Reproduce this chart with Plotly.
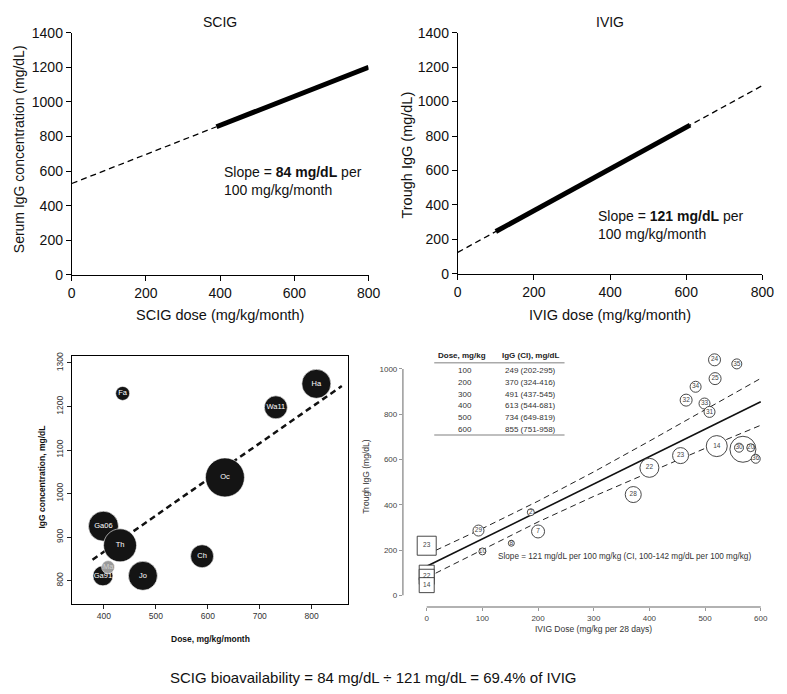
import plotly.graph_objects as go

W, H = 787, 694
# the page shows the figure 8px right and 8px down in the window; compensate
OX, OY = 8, 8
def fx(p): return (p - OX) / W
def fy(p): return 1 - (p - OY) / H

FONT = "Liberation Sans, Arial, sans-serif"

# ---------------- DATA ----------------
# Top-left: SCIG model fit
scig_dash_dose = [0, 390]
scig_dash_igg = [528, 856]
scig_solid_dose = [390, 800]
scig_solid_igg = [856, 1200]
# Top-right: IVIG model fit
ivig_dash_dose = [0, 800]
ivig_dash_igg = [125, 1093]
ivig_solid_dose = [100, 610]
ivig_solid_igg = [246, 863]
axis_top_x_ticks = [0, 200, 400, 600, 800]
axis_top_y_ticks = [0, 200, 400, 600, 800, 1000, 1200, 1400]

# Bottom-left: SCIG studies (bubble)
studies = ["Fa", "Ha", "Wa11", "Oc", "Ga06", "Th", "Ch", "Jo", "Ga91", "Ma"]
study_dose = [436, 809, 731, 633, 399, 431, 589, 475, 398, 408]
study_igg = [1230, 1252, 1198, 1037, 925, 881, 856, 811, 811, 831]
study_weight = [14, 29, 23, 39, 30, 33, 23, 29, 20, 13]
study_fit_dose = [378, 858]
study_fit_igg = [848, 1247]
bl_x_ticks = [400, 500, 600, 700, 800]
bl_y_ticks = [800, 900, 1000, 1100, 1200, 1300]

# Bottom-right: IVIG trials
trial_labels = ["24", "35", "25", "34", "32", "33", "31", "14", "23", "22", "28",
                "", "30", "20", "36", "7", "2", "29", "8", "10"]
trial_dose = [517, 557, 518, 483, 466, 499, 508, 521, 456, 400, 371,
              568, 561, 582, 591, 200, 187, 93, 152, 100]
trial_igg = [1040, 1022, 957, 921, 862, 847, 810, 659, 617, 563, 445,
             645, 652, 652, 603, 282, 367, 286, 230, 194]
trial_weight = [12, 10, 12, 11, 12, 11, 11, 21, 16, 19, 16,
                26, 9, 8, 9, 13, 7, 11, 6, 7]
square_labels = ["23", "", "22", "14"]
square_dose = [0, 0, 0, 0]
square_igg = [219, 100, 82, 45]
square_weight = [19, 15, 15, 15]

table_dose = [100, 200, 300, 400, 500, 600]
table_igg = [249, 370, 491, 613, 734, 855]
table_lo = [202, 324, 437, 544, 649, 751]
table_hi = [295, 416, 545, 681, 819, 958]
fit_dose = [0] + table_dose
fit_igg = [128] + table_igg
fit_hi = [180] + table_hi
fit_lo = [78] + table_lo
br_x_ticks = [0, 100, 200, 300, 400, 500, 600]
br_y_ticks = [0, 200, 400, 600, 800, 1000]

# ---------------- FIGURE ----------------
fig = go.Figure()

# Top-left
fig.add_trace(go.Scatter(x=scig_dash_dose, y=scig_dash_igg, mode="lines",
                         line=dict(color="black", width=1.3, dash="6px,4px"),
                         xaxis="x", yaxis="y", showlegend=False))
fig.add_trace(go.Scatter(x=scig_solid_dose, y=scig_solid_igg, mode="lines",
                         line=dict(color="black", width=5),
                         xaxis="x", yaxis="y", showlegend=False))
# Top-right
fig.add_trace(go.Scatter(x=ivig_dash_dose, y=ivig_dash_igg, mode="lines",
                         line=dict(color="black", width=1.3, dash="6px,4px"),
                         xaxis="x2", yaxis="y2", showlegend=False))
fig.add_trace(go.Scatter(x=ivig_solid_dose, y=ivig_solid_igg, mode="lines",
                         line=dict(color="black", width=5),
                         xaxis="x2", yaxis="y2", showlegend=False))

# Bottom-left
fig.add_trace(go.Scatter(x=study_fit_dose, y=study_fit_igg, mode="lines",
                         line=dict(color="#111", width=2.5, dash="6px,4px"),
                         xaxis="x3", yaxis="y3", showlegend=False))
study_colors = ["#9a9a9a" if s == "Ma" else "#141414" for s in studies]
study_text_colors = ["#d0d0d0" if s == "Ma" else "#ffffff" for s in studies]
fig.add_trace(go.Scatter(x=study_dose, y=study_igg, mode="markers+text",
                         text=studies, textposition="middle center",
                         textfont=dict(color=study_text_colors, size=7.5, family=FONT),
                         marker=dict(size=study_weight, sizemode="diameter",
                                     color=study_colors, opacity=1,
                                     line=dict(color="white", width=0.6)),
                         cliponaxis=False,
                         xaxis="x3", yaxis="y3", showlegend=False))

# Bottom-right
fig.add_trace(go.Scatter(x=fit_dose, y=fit_hi, mode="lines",
                         line=dict(color="#222", width=1, dash="6px,4px"),
                         xaxis="x4", yaxis="y4", showlegend=False))
fig.add_trace(go.Scatter(x=fit_dose, y=fit_lo, mode="lines",
                         line=dict(color="#222", width=1, dash="6px,4px"),
                         xaxis="x4", yaxis="y4", showlegend=False))
fig.add_trace(go.Scatter(x=fit_dose, y=fit_igg, mode="lines",
                         line=dict(color="#111", width=1.6),
                         xaxis="x4", yaxis="y4", showlegend=False))
fig.add_trace(go.Scatter(x=trial_dose, y=trial_igg, mode="markers+text",
                         text=trial_labels, textposition="middle center",
                         textfont=dict(color="#444", size=6.5, family=FONT),
                         marker=dict(size=trial_weight, sizemode="diameter",
                                     color="white", symbol="circle", opacity=1,
                                     line=dict(color="#333", width=0.9)),
                         cliponaxis=False,
                         xaxis="x4", yaxis="y4", showlegend=False))
fig.add_trace(go.Scatter(x=square_dose, y=square_igg, mode="markers+text",
                         text=square_labels, textposition="middle center",
                         textfont=dict(color="#444", size=6.5, family=FONT),
                         marker=dict(size=square_weight, sizemode="diameter",
                                     color="white", symbol="square", opacity=1,
                                     line=dict(color="#333", width=0.9)),
                         cliponaxis=False,
                         xaxis="x4", yaxis="y4", showlegend=False))

top_axis = dict(showline=True, linecolor="black", linewidth=1, ticks="outside",
                ticklen=5, tickcolor="black", tickfont=dict(size=14, family=FONT, color="#111"),
                showgrid=False, zeroline=False, ticklabeloverflow="allow")
bl_axis = dict(showline=True, linecolor="black", linewidth=1, mirror=True, ticks="outside",
               ticklen=4, tickcolor="#222", tickfont=dict(size=8.5, family=FONT, color="#333"),
               showgrid=False, zeroline=False)
br_axis = dict(showline=False, ticks="outside", ticklen=3, tickcolor="#999",
               tickfont=dict(size=8, family=FONT, color="#444"),
               showgrid=False, zeroline=False)

fig.update_layout(
    width=W, height=H, margin=dict(l=0, r=0, t=0, b=0),
    paper_bgcolor="white", plot_bgcolor="white",
    font=dict(family=FONT),
    xaxis=dict(top_axis, domain=[fx(69), fx(372)], range=[0, 800],
               tickvals=axis_top_x_ticks, anchor="y"),
    yaxis=dict(top_axis, domain=[fy(273), fy(25)], range=[0, 1400],
               tickvals=axis_top_y_ticks, anchor="x"),
    xaxis2=dict(top_axis, domain=[fx(463), fx(774)], range=[0, 800],
                tickvals=axis_top_x_ticks, anchor="y2"),
    yaxis2=dict(top_axis, domain=[fy(272), fy(25)], range=[0, 1400],
                tickvals=axis_top_y_ticks, anchor="x2"),
    xaxis3=dict(bl_axis, domain=[fx(69), fx(351)], range=[338, 870],
                tickvals=bl_x_ticks, anchor="y3"),
    yaxis3=dict(bl_axis, domain=[fy(610), fy(356)], range=[746, 1316],
                tickvals=bl_y_ticks, tickangle=-90, anchor="x3"),
    xaxis4=dict(br_axis, domain=[fx(407), fx(780)], range=[-42.8, 613.6],
                tickvals=br_x_ticks, anchor="y4"),
    yaxis4=dict(br_axis, domain=[fy(613), fy(340)], range=[-51.8, 1126],
                tickvals=br_y_ticks, anchor="x4"),
)

shapes = []
# bottom-right axis lines spanning tick range
shapes.append(dict(type="line", xref="x4", yref="paper", x0=br_x_ticks[0], x1=br_x_ticks[-1],
                   y0=fy(613), y1=fy(613), line=dict(color="#999", width=1.5)))
shapes.append(dict(type="line", xref="paper", yref="y4", x0=fx(407), x1=fx(407),
                   y0=br_y_ticks[0], y1=br_y_ticks[-1], line=dict(color="#999", width=1.5)))
# table rules
shapes.append(dict(type="line", xref="paper", yref="paper", x0=fx(439), x1=fx(572),
                   y0=fy(363), y1=fy(363), line=dict(color="#aaa", width=1.5)))
shapes.append(dict(type="line", xref="paper", yref="paper", x0=fx(439), x1=fx(572),
                   y0=fy(437), y1=fy(437), line=dict(color="#aaa", width=1.5)))
fig.update_layout(shapes=shapes)

ann = []
def pa(text, x, y, size, color="#111", angle=0, xanchor="center", yanchor="middle"):
    ann.append(dict(text=text, x=fx(x), y=fy(y), xref="paper", yref="paper",
                    showarrow=False, font=dict(size=size, color=color, family=FONT),
                    textangle=angle, xanchor=xanchor, yanchor=yanchor))

# titles
pa("SCIG", 220, 14.5, 14)
pa("IVIG", 618, 14.5, 14)
pa("SCIG dose (mg/kg/month)", 220, 314, 14.5)
pa("IVIG dose (mg/kg/month)", 618, 314, 14.5)
pa("Serum IgG concentration (mg/dL)", 15.5, 144, 14, angle=-90)
pa("Trough IgG (mg/dL)", 411, 150, 14.5, angle=-90)

# slope texts (data coords)
ann.append(dict(text="Slope = <b>84 mg/dL</b> per<br>100 mg/kg/month", x=404, y=545,
                xref="x", yref="y", showarrow=False, xanchor="left", yanchor="middle",
                align="left", font=dict(size=14, color="#111", family=FONT)))
ann.append(dict(text="Slope = <b>121 mg/dL</b> per<br>100 mg/kg/month", x=363, y=283,
                xref="x2", yref="y2", showarrow=False, xanchor="left", yanchor="middle",
                align="left", font=dict(size=14, color="#111", family=FONT)))

# bottom-left axis titles
pa("<b>IgG concentration, mg/dL</b>", 39, 480, 8.5, angle=-90)
pa("<b>Dose, mg/kg/month</b>", 211, 646, 8.5)

# bottom-right axis titles
pa("Trough IgG (mg/dL)", 369, 480, 8.5, color="#333", angle=-90)
pa("IVIG Dose (mg/kg per 28 days)", 602, 635, 8.5, color="#333")
ann.append(dict(text="Slope = 121 mg/dL per 100 mg/kg (CI, 100-142 mg/dL per 100 mg/kg)",
                x=124, y=173, xref="x4", yref="y4", showarrow=False, xanchor="left",
                yanchor="middle", font=dict(size=8.2, color="#333", family=FONT)))

# table
pa("<b>Dose, mg/kg</b>", 467, 356, 8, color="#222")
pa("<b>IgG (CI), mg/dL</b>", 537, 356, 8, color="#222")
for i in range(len(table_dose)):
    yrow = 370.7 + 12.12 * i
    pa(str(table_dose[i]), 470, yrow, 8, color="#333")
    pa(f"{table_igg[i]} ({table_lo[i]}-{table_hi[i]})", 537, yrow, 8, color="#333")

# footer
pa("SCIG bioavailability = 84 mg/dL \u00f7 121 mg/dL = 69.4% of IVIG", 377, 685, 15)

fig.update_layout(annotations=ann)
fig.write_html("out.html")
